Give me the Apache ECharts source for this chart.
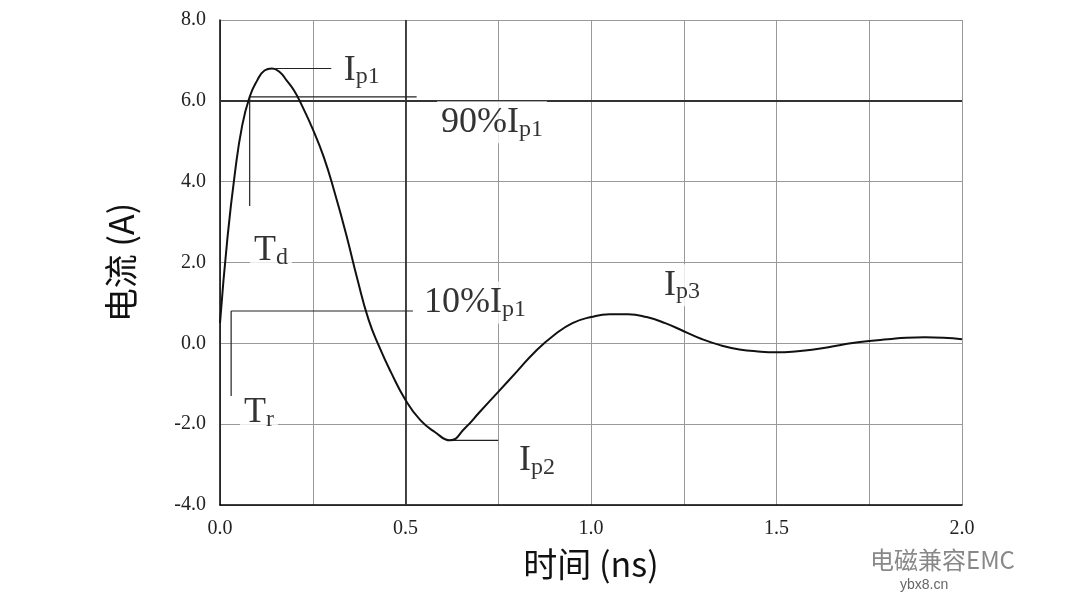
<!DOCTYPE html>
<html><head><meta charset="utf-8">
<script src="https://cdn.jsdelivr.net/npm/echarts@6/dist/echarts.min.js"></script>
<style>html,body{margin:0;background:#fff}#c{width:1080px;height:608px}</style>
</head><body><div id="c"></div>
<script>
const timeNs = [0,0.02,0.04,0.06,0.08,0.1,0.12,0.14,0.16,0.18,0.2,0.22,0.25,0.28,0.31,0.34,0.37,0.4,0.43,0.46,0.5,0.54,0.58,0.62,0.66,0.7,0.75,0.8,0.85,0.9,0.95,1.0,1.05,1.1,1.15,1.2,1.25,1.3,1.35,1.4,1.45,1.5,1.55,1.6,1.65,1.7,1.75,1.8,1.85,1.9,1.95,2.0];
const currentA = [0.5,2.6,4.2,5.4,6.1,6.5,6.75,6.8,6.72,6.5,6.25,5.9,5.3,4.6,3.7,2.7,1.6,0.6,-0.1,-0.7,-1.4,-1.9,-2.2,-2.4,-2.1,-1.7,-1.2,-0.7,-0.2,0.2,0.5,0.65,0.72,0.72,0.65,0.5,0.3,0.1,-0.05,-0.15,-0.2,-0.22,-0.2,-0.15,-0.08,0,0.06,0.1,0.14,0.15,0.14,0.1];
const yTicks = ['-4.0','-2.0','0.0','2.0','4.0','6.0','8.0'];
const xTicks = ['0.0','0.5','1.0','1.5','2.0'];
const guideIp1 = [[0.15,6.8],[0.3,6.8]];
const guide90 = [[0.08,6.1],[0.53,6.1]];
const guideTd = [[0.08,6.1],[0.08,3.4]];
const guide10 = [[0.03,0.8],[0.52,0.8]];
const guideTr = [[0.03,0.8],[0.03,-1.3]];
const guideIp2 = [[0.62,-2.4],[0.75,-2.4]];
// labels: [x (left edge), y (centre), main, sub]
const labels = [[0.323,6.76,'I','p1'],[0.585,5.47,'90%I','p1'],[0.081,2.3,'T','d'],[0.539,1.01,'10%I','p1'],[0.054,-1.71,'T','r'],[0.795,-2.9,'I','p2'],[1.186,1.44,'I','p3']];
const serif = '"Liberation Serif","DejaVu Serif",serif';
const chart = echarts.init(document.getElementById('c'));
function guide(d){return {type:'line',data:d,symbol:'none',lineStyle:{color:'#222',width:1.2},z:5,silent:true};}
chart.setOption({
  animation:false,
  grid:{left:220,right:118,top:20,bottom:103},
  xAxis:{type:'value',min:0,max:2,interval:0.25,
    axisLine:{onZero:false,lineStyle:{color:'#000',width:1.5}},axisTick:{show:false},
    axisLabel:{fontFamily:serif,fontSize:20,color:'#222',margin:14,
      formatter:v=>{const s=v.toFixed(1);return Math.abs(v*2-Math.round(v*2))<1e-6&&xTicks.includes(s)?s:'';}},
    splitLine:{lineStyle:{color:'#999',width:1}},
    name:'时间 (ns)',nameLocation:'middle',nameGap:42,nameTextStyle:{fontSize:34,color:'#111',fontFamily:'"Noto Sans CJK SC",'+serif}},
  yAxis:{type:'value',min:-4,max:8,interval:2,
    axisLine:{show:true,onZero:false,lineStyle:{color:'#000',width:1.5}},axisTick:{show:false},
    axisLabel:{fontFamily:serif,fontSize:20,color:'#222',margin:14,formatter:v=>yTicks[(v+4)/2]},
    splitLine:{lineStyle:{color:'#999',width:1}},
    name:'电流 (A)',nameLocation:'middle',nameGap:82,nameRotate:90,nameTextStyle:{fontSize:34,color:'#111',fontFamily:'"Noto Sans CJK SC",'+serif}},
  graphic:[
    {type:'line',shape:{x1:406,y1:20,x2:406,y2:505},style:{stroke:'#333',lineWidth:1.8},z:1},
    {type:'line',shape:{x1:220,y1:101,x2:962,y2:101},style:{stroke:'#333',lineWidth:1.8},z:1},
    {type:'text',left:870,top:548,style:{text:'电磁兼容EMC',fontSize:24,fill:'#888',fontFamily:'"Noto Sans CJK SC"'}},
    {type:'text',left:900,top:578,style:{text:'ybx8.cn',fontSize:14,fill:'#666',fontFamily:'Liberation Sans'}}
  ],
  series:[
    {type:'line',data:timeNs.map((t,i)=>[t,currentA[i]]),smooth:true,symbol:'none',lineStyle:{color:'#111',width:2},z:6},
    guide(guideIp1),guide(guide90),guide(guideTd),guide(guide10),guide(guideTr),guide(guideIp2),
    {type:'scatter',symbolSize:0,z:10,data:labels.map(l=>({value:[l[0],l[1]],label:{show:true,position:'right',distance:0,
      formatter:'{m|'+l[2]+'}{s|'+l[3]+'}',backgroundColor:'#fff',padding:[2,4],
      rich:{m:{fontFamily:serif,fontSize:36,color:'#000'},s:{fontFamily:serif,fontSize:24,color:'#000',verticalAlign:'bottom',padding:[14,0,0,0]}}}}))}
  ]
});
</script></body></html>
